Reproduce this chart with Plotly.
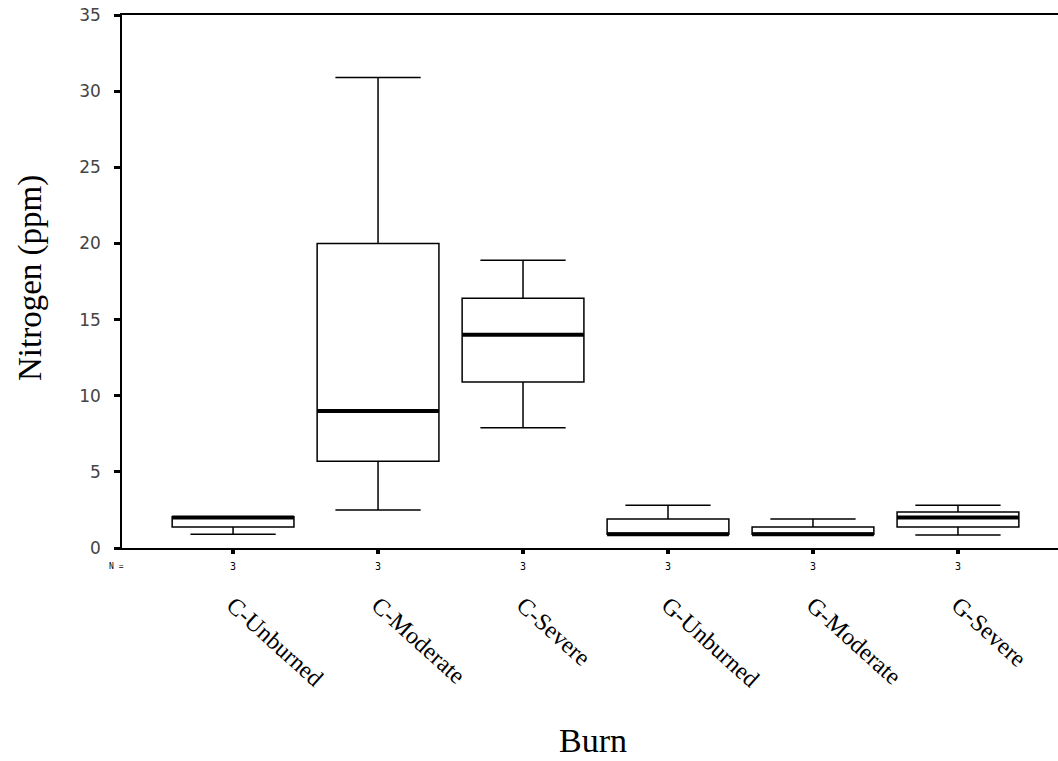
import plotly.graph_objects as go

categories = ["C-Unburned", "C-Moderate", "C-Severe", "G-Unburned", "G-Moderate", "G-Severe"]
lower = [0.9, 2.5, 7.9, 0.9, 0.9, 0.85]
q1 = [1.38, 5.7, 10.9, 0.9, 0.9, 1.38]
median = [2.0, 9.0, 14.0, 0.9, 0.9, 2.0]
q3 = [2.05, 20.0, 16.4, 1.9, 1.38, 2.36]
upper = [2.05, 30.9, 18.9, 2.8, 1.9, 2.8]
n_counts = ["3", "3", "3", "3", "3", "3"]
y_ticks = [0, 5, 10, 15, 20, 25, 30, 35]

pos = list(range(len(categories)))
box_w = 0.84

fig = go.Figure()
fig.add_trace(go.Box(
    x=pos, q1=q1, median=median, q3=q3, lowerfence=lower, upperfence=upper,
    width=box_w, whiskerwidth=0.7, fillcolor="white",
    line=dict(color="black", width=1.5), boxpoints=False, showlegend=False,
    hoverinfo="skip"))

mx, my = [], []
for p, m in zip(pos, median):
    mx += [p - box_w / 2, p + box_w / 2, None]
    my += [m, m, None]
fig.add_trace(go.Scatter(x=mx, y=my, mode="lines", line=dict(color="black", width=4),
                         showlegend=False, hoverinfo="skip"))

L, T, W, H = 122, 15, 936, 533

annotations = [
    dict(text="Burn", x=(593 - L) / W, y=(548 - 740) / H, xref="paper", yref="paper",
         showarrow=False, font=dict(family="Liberation Serif", size=34, color="black"),
         xanchor="center", yanchor="middle"),
    dict(text="Nitrogen (ppm)", x=(30 - L) / W, y=(548 - 278) / H, xref="paper", yref="paper",
         showarrow=False, textangle=-90, font=dict(family="Liberation Serif", size=33, color="black"),
         xanchor="center", yanchor="middle"),
    dict(text="N =", x=(116 - L) / W, y=(548 - 566) / H, xref="paper", yref="paper",
         showarrow=False, font=dict(family="DejaVu Sans Mono", size=8, color="black"),
         xanchor="center", yanchor="middle"),
]
for p, n in zip(pos, n_counts):
    annotations.append(dict(text=n, x=p, y=(548 - 566) / H, xref="x", yref="paper",
                            showarrow=False, font=dict(family="DejaVu Sans Mono", size=10, color="black"),
                            xanchor="center", yanchor="middle"))

fig.update_layout(
    width=1058, height=761, autosize=False,
    margin=dict(l=L, r=0, t=T, b=761 - 548),
    paper_bgcolor="white", plot_bgcolor="white",
    annotations=annotations,
    xaxis=dict(range=[-0.766, 5.69], tickmode="array", tickvals=pos, ticktext=categories,
               tickangle=42, ticks="outside", ticklen=4, tickwidth=4, tickcolor="black",
               showline=True, linecolor="black", linewidth=1.5, mirror=True,
               showgrid=False, zeroline=False, ticklabelstandoff=28,
               tickfont=dict(family="Liberation Serif", size=24, color="black")),
    yaxis=dict(range=[0, 35], tickmode="array", tickvals=y_ticks,
               ticks="outside", ticklen=6, tickwidth=3, tickcolor="black",
               showline=True, linecolor="black", linewidth=1.5,
               showgrid=False, zeroline=False, ticklabelstandoff=10,
               tickfont=dict(family="DejaVu Sans", size=17, color="#444")),
)

fig.write_html("out.html")
